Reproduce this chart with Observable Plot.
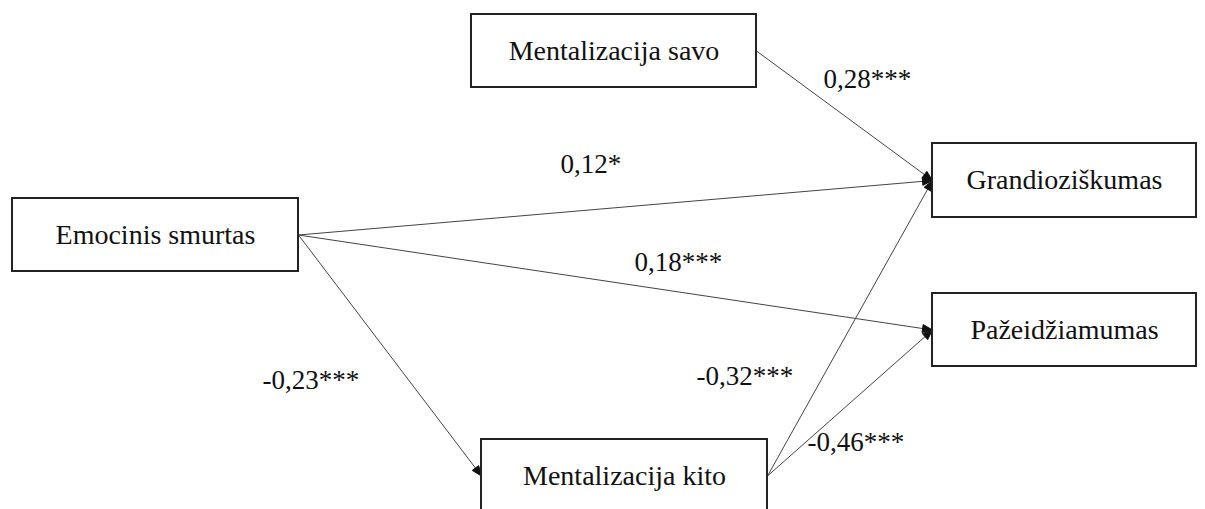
<!DOCTYPE html>
<html>
<head>
<meta charset="utf-8">
<script src="https://cdn.jsdelivr.net/npm/d3@7"></script>
<script src="https://cdn.jsdelivr.net/npm/@observablehq/plot@0.6"></script>
<style>
  html, body { margin: 0; padding: 0; background: #fff; }
  #chart svg { display: block; }
</style>
</head>
<body>
<div id="chart"></div>
<script>
// ---- Data ----
const nodeNames = ["Emocinis smurtas", "Mentalizacija savo", "Mentalizacija kito", "Grandioziškumas", "Pažeidžiamumas"];
const pathFrom  = ["Mentalizacija savo", "Emocinis smurtas", "Emocinis smurtas", "Emocinis smurtas", "Mentalizacija kito", "Mentalizacija kito"];
const pathTo    = ["Grandioziškumas", "Grandioziškumas", "Pažeidžiamumas", "Mentalizacija kito", "Grandioziškumas", "Pažeidžiamumas"];
const pathCoef  = ["0,28***", "0,12*", "0,18***", "-0,23***", "-0,32***", "-0,46***"];

// ---- Layout (diagram coordinates) ----
const boxX0 = [12, 471, 481, 932, 932];
const boxX1 = [298, 756, 767, 1196, 1196];
const boxY0 = [198, 14, 439, 143, 293];
const boxY1 = [271, 87, 512, 217, 366];
const labelX = [823, 560, 634, 262, 696, 807];
const labelY = [79, 164, 262, 380, 376, 442];

const W = 1205, H = 509;
const nodes = nodeNames.map((name, i) => ({name, x0: boxX0[i], x1: boxX1[i], y0: boxY0[i], y1: boxY1[i]}));
const byName = new Map(nodes.map(n => [n.name, n]));
const paths = pathFrom.map((f, i) => {
  const s = byName.get(f), t = byName.get(pathTo[i]);
  return {id: i, x1: s.x1, y1: (s.y0 + s.y1) / 2, x2: t.x0, y2: (t.y0 + t.y1) / 2,
          coef: pathCoef[i], lx: labelX[i], ly: labelY[i]};
});
// arrowhead triangles
const heads = [];
const L = 10, HW = 4;
for (const p of paths) {
  const dx = p.x2 - p.x1, dy = p.y2 - p.y1, len = Math.hypot(dx, dy);
  const ux = dx / len, uy = dy / len;
  const bx = p.x2 - ux * L, by = p.y2 - uy * L;
  heads.push({id: p.id, x: p.x2, y: p.y2});
  heads.push({id: p.id, x: bx - uy * HW, y: by + ux * HW});
  heads.push({id: p.id, x: bx + uy * HW, y: by - ux * HW});
  heads.push({id: p.id, x: p.x2, y: p.y2});
}

const chart = Plot.plot({
  width: W, height: H,
  margin: 0,
  x: {domain: [0, W], range: [0, W], axis: null},
  y: {domain: [0, H], range: [0, H], axis: null},
  style: {fontFamily: "'Liberation Serif', 'Times New Roman', serif", background: "#fff", overflow: "hidden"},
  marks: [
    Plot.link(paths, {x1: "x1", y1: "y1", x2: "x2", y2: "y2", stroke: "#444", strokeWidth: 1}),
    Plot.line(heads, {x: "x", y: "y", z: "id", fill: "#111", stroke: "#111", strokeWidth: 1, curve: "linear"}),
    Plot.rect(nodes, {x1: "x0", x2: "x1", y1: "y0", y2: "y1", fill: "#fff", stroke: "#222", strokeWidth: 2}),
    Plot.text(nodes, {x: d => (d.x0 + d.x1) / 2, y: d => (d.y0 + d.y1) / 2, text: "name",
      fontSize: 28, fill: "#111", textAnchor: "middle", lineAnchor: "middle"}),
    Plot.text(paths, {x: "lx", y: "ly", text: "coef", fontSize: 27, fill: "#111",
      textAnchor: "start", lineAnchor: "middle"})
  ]
});
document.getElementById("chart").appendChild(chart);
</script>
</body>
</html>
